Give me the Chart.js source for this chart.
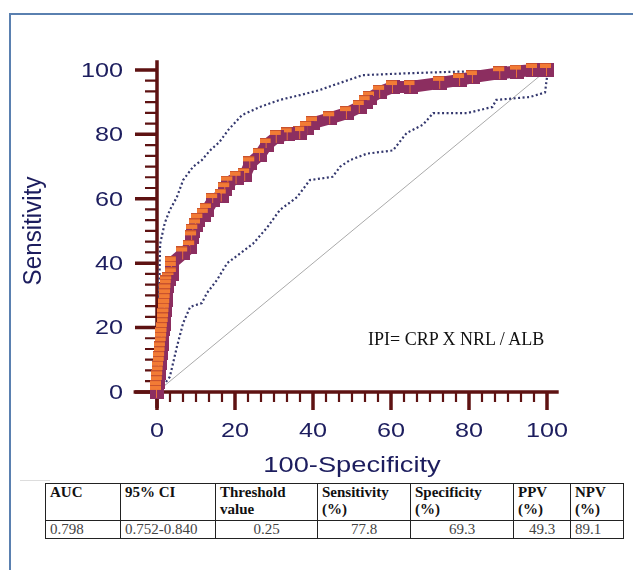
<!DOCTYPE html>
<html>
<head>
<meta charset="utf-8">
<script src="https://cdn.jsdelivr.net/npm/chart.js@4.4.1/dist/chart.umd.min.js"></script>
<style>
  body { margin: 0; background: #fff; }
  #page { position: relative; width: 633px; height: 570px; overflow: hidden; background: #fff; }
  #frame { position: absolute; left: 9px; top: 13px; width: 700px; height: 700px; border: 2px solid #5a80b0; box-sizing: border-box; }
  #wrap { position: absolute; left: 0; top: 0; width: 633px; height: 480px; }
  #note { position: absolute; left: 368px; top: 329px; font: 18px "Liberation Serif", "Times New Roman", serif; color: #111; white-space: nowrap; }
  #faint { position: absolute; left: 20px; top: 480px; width: 30px; height: 1px; background: #ddd; }
  table { position: absolute; left: 45px; top: 483px; width: 578px; table-layout: fixed; border-collapse: collapse; font: 15px "Liberation Serif", "Times New Roman", serif; color: #111; }
  td { border: 1.5px solid #222; padding: 0 4px; vertical-align: top; line-height: 17px; overflow: hidden; white-space: nowrap; }
  tr.head td { font-weight: bold; height: 36px; }
  tr.vals td { color: #444; }
</style>
</head>
<body>
<div id="page">
  <div id="frame"></div>
  <div id="wrap"><canvas id="myChart" width="633" height="480"></canvas></div>
  <div id="note">IPI= CRP X NRL / ALB</div>
  <div id="faint"></div>
  <table>
    <colgroup>
      <col style="width:75px"><col style="width:95px"><col style="width:102px"><col style="width:93px"><col style="width:103px"><col style="width:57px"><col style="width:53px">
    </colgroup>
    <tr class="head">
      <td>AUC</td>
      <td>95% CI</td>
      <td>Threshold<br>value</td>
      <td>Sensitivity<br>(%)</td>
      <td>Specificity<br>(%)</td>
      <td>PPV<br>(%)</td>
      <td>NPV<br>(%)</td>
    </tr>
    <tr class="vals">
      <td>0.798</td>
      <td>0.752-0.840</td>
      <td style="text-align:center">0.25</td>
      <td style="text-align:center">77.8</td>
      <td style="text-align:center">69.3</td>
      <td style="text-align:center">49.3</td>
      <td>89.1</td>
    </tr>
  </table>
</div>
<script>
// ROC curve (x = 100-Specificity, y = Sensitivity)
const rocX = [0, 0, 0.2, 0.3, 0.4, 0.5, 0.7, 0.8, 0.9, 1, 1.2, 1.3, 1.4, 1.5, 1.7, 1.8, 1.9, 2, 2.1, 2.2, 2.3, 2.4, 2.5, 2.6, 3.2, 3.8, 3.8, 3.8, 6.7, 8.5, 9, 9.3, 10, 10.6, 12, 12.8, 14.4, 16.6, 17.5, 18.3, 20.4, 22.6, 23.9, 26.4, 28.1, 30.7, 33.5, 36.7, 38.5, 40, 44.4, 48.7, 52, 53.5, 54.6, 57.2, 60.5, 65, 72.6, 77.7, 81, 88, 92.3, 96.4, 100];
const rocY = [0, 1.5, 3, 4.5, 6, 7.5, 9, 10.5, 12, 13.5, 15, 16.5, 18, 19.5, 21, 22.5, 24, 25.5, 27, 28.5, 30, 31.5, 33, 34, 35, 36.5, 38.5, 40, 43, 45, 48, 50, 51.7, 53.4, 55, 56.5, 59.6, 61, 63, 65, 66.5, 67.4, 71, 73.6, 76.7, 79.2, 80, 80.4, 82, 83.5, 85, 86.6, 88.5, 90, 91.3, 93.2, 94.7, 94.7, 96, 96.9, 97.8, 99, 99.5, 100, 100];

// 95% confidence bounds
const upperX = [0, 0.3, 0.5, 0.6, 0.7, 0.8, 2, 3.3, 5.1, 6.7, 9.3, 11.5, 13.6, 16, 18.3, 21.8, 26.4, 31.5, 36.7, 41.8, 47.7, 52.8, 65, 75, 96.4, 100];
const upperY = [0, 10, 20, 30, 40, 46, 52.5, 56.5, 60.5, 65.8, 70, 72, 75, 77.6, 81.4, 86, 88.5, 90.7, 92.2, 93.8, 96.3, 98.4, 99, 99.4, 100, 100];
const lowerX = [0, 1, 3.3, 5.1, 6.7, 8.5, 11.5, 12.8, 15.4, 18, 21.3, 24.6, 28.2, 31.5, 35.9, 39.2, 45, 47, 49.5, 53.8, 60.5, 64, 68.2, 70.8, 79.5, 86, 87, 95.6, 99.5, 100, 100];
const lowerY = [0, 1, 4.7, 14, 21.4, 26.4, 27.6, 30.7, 34.8, 40, 43, 46, 51, 56.5, 60.5, 65.8, 66.8, 70, 72, 74, 75, 80.4, 83, 86.6, 86.6, 88.5, 90.7, 91.6, 93, 97.8, 100];

// reference diagonal
const diagX = [0, 100];
const diagY = [0, 100];

const xTicks = [0, 20, 40, 60, 80, 100];
const yTicks = [0, 20, 40, 60, 80, 100];
const xTitle = "100-Specificity";
const yTitle = "Sensitivity";

const pts = (xs, ys) => xs.map((v, i) => ({ x: v, y: ys[i] }));

const axisColor = "#5e1212";
const labelColor = "#1c1d5e";
const rocPurple = "#8c2e60";

// box marker: purple block with an orange face on top-left
const marker = document.createElement("canvas");
marker.width = 14; marker.height = 14;
(function () {
  const m = marker.getContext("2d");
  m.fillStyle = rocPurple;
  m.fillRect(0, 0, 14, 14);
  m.fillStyle = "#f27b35";
  m.fillRect(0, 0, 11, 5);
  m.strokeStyle = "#c9522e";
  m.lineWidth = 1;
  m.beginPath(); m.moveTo(0, 0.5); m.lineTo(11, 0.5); m.stroke();
  m.strokeStyle = "#e8703a";
  m.beginPath(); m.moveTo(6.5, 5); m.lineTo(6.5, 13); m.stroke();
})();

// draws the MedCalc-style axes, ticks and labels from the chart scales
const medcalcAxes = {
  id: "medcalcAxes",
  beforeDatasetsDraw(chart) {
    const ctx = chart.ctx;
    const area = chart.chartArea;
    const xs = chart.scales.x, ys = chart.scales.y;
    const x0 = xs.getPixelForValue(0), y0 = ys.getPixelForValue(0);
    ctx.save();
    ctx.strokeStyle = axisColor;
    ctx.lineCap = "butt";
    ctx.lineWidth = 3.5;
    ctx.beginPath();
    ctx.moveTo(x0, area.top); ctx.lineTo(x0, area.bottom);
    ctx.moveTo(area.left, y0); ctx.lineTo(area.right, y0);
    ctx.stroke();
    for (let i = 0; i <= 30; i++) {
      const v = i * 20 / 6;
      const major = i % 6 === 0;
      ctx.lineWidth = major ? 3.5 : 2.2;
      const py = ys.getPixelForValue(v);
      const px = xs.getPixelForValue(v);
      ctx.beginPath();
      ctx.moveTo(x0 - (major ? 22 : 12), py); ctx.lineTo(x0, py);
      ctx.moveTo(px, y0); ctx.lineTo(px, y0 + (major ? 18 : 10));
      ctx.stroke();
    }
    ctx.fillStyle = labelColor;
    ctx.font = "21px 'Liberation Sans', Arial, sans-serif";
    ctx.textBaseline = "middle";
    yTicks.forEach(t => {
      ctx.save();
      ctx.translate(x0 - 34, ys.getPixelForValue(t) + 1);
      ctx.scale(1.2, 1);
      ctx.textAlign = "right";
      ctx.fillText(String(t), 0, 0);
      ctx.restore();
    });
    xTicks.forEach(t => {
      ctx.save();
      ctx.translate(xs.getPixelForValue(t), y0 + 39);
      ctx.scale(1.2, 1);
      ctx.textAlign = "center";
      ctx.fillText(String(t), 0, 0);
      ctx.restore();
    });
    ctx.font = "22px 'Liberation Sans', Arial, sans-serif";
    ctx.save();
    ctx.translate((xs.getPixelForValue(0) + xs.getPixelForValue(100)) / 2, y0 + 74);
    ctx.scale(1.24, 1);
    ctx.textAlign = "center";
    ctx.fillText(xTitle, 0, 0);
    ctx.restore();
    ctx.save();
    ctx.translate(34, (ys.getPixelForValue(0) + ys.getPixelForValue(100)) / 2);
    ctx.rotate(-Math.PI / 2);
    ctx.scale(1.1, 1.15);
    ctx.textAlign = "center";
    ctx.fillText(yTitle, 0, 0);
    ctx.restore();
    ctx.restore();
  }
};

new Chart(document.getElementById("myChart").getContext("2d"), {
  type: "scatter",
  data: {
    datasets: [
      { order: 3, data: pts(diagX, diagY), showLine: true, borderColor: "#aaa", borderWidth: 1, pointRadius: 0 },
      { order: 2, data: pts(upperX, upperY), showLine: true, borderColor: "#34386e", borderWidth: 2.2, borderDash: [2, 2.5], pointRadius: 0 },
      { order: 2, data: pts(lowerX, lowerY), showLine: true, borderColor: "#34386e", borderWidth: 2.2, borderDash: [2, 2.5], pointRadius: 0 },
      { order: 1, data: pts(rocX, rocY), showLine: true, borderColor: rocPurple, borderWidth: 12, pointRadius: 0, borderJoinStyle: "miter" },
      // markers drawn from the top end down so the lower boxes sit in front
      { order: 0, data: pts(rocX, rocY).reverse(), showLine: false, pointStyle: marker, pointRadius: 7 }
    ]
  },
  options: {
    responsive: false,
    animation: false,
    events: [],
    layout: { padding: { left: 133.6, right: 74.3, top: 60.3, bottom: 72 } },
    plugins: { legend: { display: false }, tooltip: { enabled: false } },
    scales: {
      x: { type: "linear", min: -6, max: 103, display: false },
      y: { type: "linear", min: -5, max: 103, display: false }
    }
  },
  plugins: [medcalcAxes]
});
</script>
</body>
</html>
